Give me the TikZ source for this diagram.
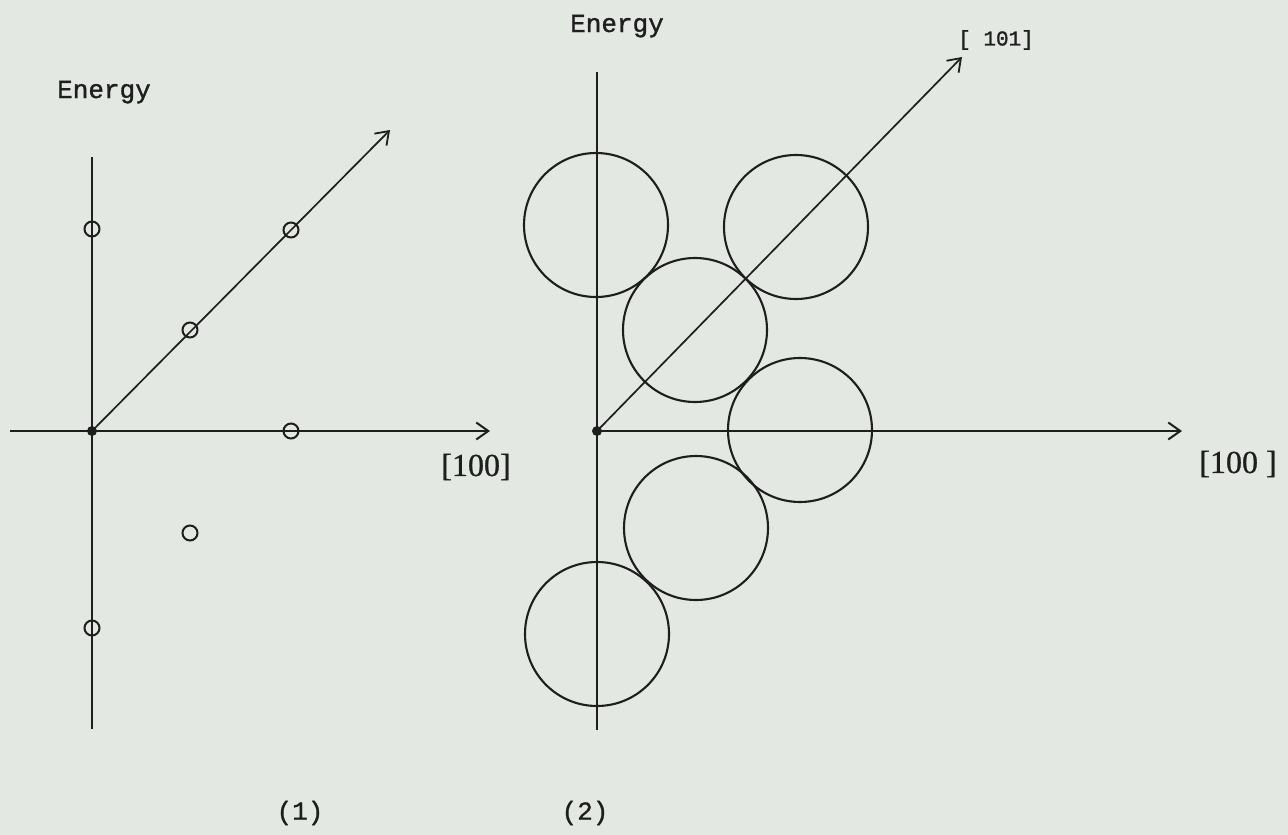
\documentclass[tikz,border=0pt]{standalone}
\usepackage{fontspec}
\setmonofont[FakeBold=1.2]{Liberation Mono}
\newfontfamily\serifnum[FakeBold=0.8]{Liberation Serif}
\usetikzlibrary{arrows.meta}
\definecolor{paper}{RGB}{228,232,226}
\definecolor{ink}{RGB}{30,30,30}
\begin{document}
\begin{tikzpicture}[x=1pt,y=-1pt,
  axis/.style={draw=ink,line width=2.2pt},
  arr/.style={axis,-{Straight Barb[length=12pt,width=17pt,line width=2pt]}},
  diag/.style={draw=ink,line width=1.7pt,-{Straight Barb[length=12pt,width=17pt,line width=1.8pt]}},
  origindot/.style={circle,fill=ink,inner sep=0pt,minimum size=10pt},
  smallring/.style={circle,draw=ink,line width=2pt,inner sep=0pt,minimum size=15pt},
  bigring/.style={circle,draw=ink,line width=2.1pt,inner sep=0pt,minimum size=144pt},
  tw/.style={text=ink,inner sep=0pt,font=\ttfamily\fontsize{26}{30}\selectfont},
  twsmall/.style={text=ink,inner sep=0pt,font=\ttfamily\fontsize{21}{24}\selectfont},
  dirlbl/.style={text=ink,inner sep=0pt,font=\serifnum\fontsize{32}{36}\selectfont}]
\fill[paper] (0,0) rectangle (1288,835);
\useasboundingbox (0,0) rectangle (1288,835);

% ---------- panel (1) ----------
\node[origindot] (O1) at (92,431) {};
\coordinate (v1t) at (92,157);
\coordinate (v1b) at (92,729);
\coordinate (h1l) at (10,431);
\coordinate (h1r) at (490,431);
\coordinate (d1) at (390,130);
\draw[axis] (v1t) -- (v1b);
\draw[arr] (h1l) -- (h1r);
\draw[diag] (O1.center) -- (d1);
\node[smallring] (p1) at (92,229) {};
\node[smallring] (p2) at (291,230) {};
\node[smallring] (p3) at (190,330) {};
\node[smallring] (p4) at (291,431) {};
\node[smallring] (p5) at (190,533) {};
\node[smallring] (p6) at (92,628) {};
\node[tw,anchor=base] (e1) at (104,98) {Energy};
\node[dirlbl] (l1) at (476,467) {[100]};
\node[tw] (c1) at (300,813) {(1)};

% ---------- panel (2) ----------
\node[origindot] (O2) at (597,431) {};
\coordinate (v2t) at (597,72);
\coordinate (v2b) at (597,730);
\coordinate (h2r) at (1182,431);
\coordinate (d2) at (962,57);
\draw[axis] (v2t) -- (v2b);
\draw[arr] (O2.center) -- (h2r);
\draw[diag] (O2.center) -- (d2);
\node[bigring] (b1) at (596,225) {};
\node[bigring] (b2) at (796,227) {};
\node[bigring] (b3) at (695,330) {};
\node[bigring] (b4) at (800,430) {};
\node[bigring] (b5) at (696,528) {};
\node[bigring] (b6) at (597,634) {};
\node[tw,anchor=base] (e2) at (617,32) {Energy};
\node[twsmall] (l2) at (996,40) {[ 101]};
\node[dirlbl] (l3) at (1238,464) {[100 ]};
\node[tw] (c2) at (585,813) {(2)};
\end{tikzpicture}
\end{document}
